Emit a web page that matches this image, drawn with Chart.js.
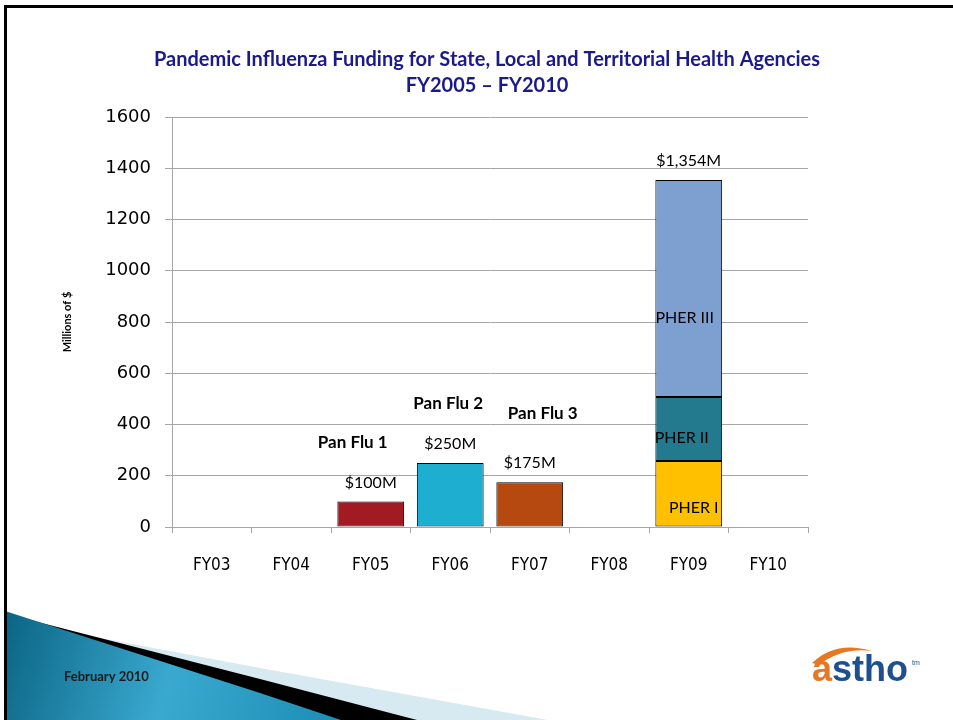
<!DOCTYPE html>
<html>
<head>
<meta charset="utf-8">
<script src="https://cdn.jsdelivr.net/npm/chart.js@4.4.1/dist/chart.umd.min.js"></script>
<style>
html,body{margin:0;padding:0;background:#fff;}
canvas{display:block;}
</style>
</head>
<body>
<canvas id="flu" width="953" height="720"></canvas>
<script>
// fiscal years along the bottom
const years = ['FY03','FY04','FY05','FY06','FY07','FY08','FY09','FY10'];
// pandemic flu grants (millions of $)
const panFlu = [null,null,100,250,175,null,null,null];
const panFluColors = ['#a31b22','#a31b22','#a31b22','#1eaed0','#b5490f','#a31b22','#a31b22','#a31b22'];
// PHER phases, FY09 only
const pher1 = [null,null,null,null,null,null,258,null];
const pher2 = [null,null,null,null,null,null,249,null];
const pher3 = [null,null,null,null,null,null,847,null];
const pherNames = ['PHER I','PHER II','PHER III'];
const amountLabels = ['','','$100M','$250M','$175M','','$1,354M',''];
const programLabels = ['','','Pan Flu 1','Pan Flu 2','Pan Flu 3','','',''];

function poly(ctx, pts){
  ctx.beginPath();
  ctx.moveTo(pts[0][0], pts[0][1]);
  for (let i = 1; i < pts.length; i++) ctx.lineTo(pts[i][0], pts[i][1]);
  ctx.closePath();
  ctx.fill();
}

const slide = {
  id: 'slide',
  beforeDraw(chart){
    const ctx = chart.ctx;
    ctx.save();
    ctx.fillStyle = '#fff';
    ctx.fillRect(0, 0, chart.width, chart.height);
    // bottom left swoosh
    ctx.fillStyle = '#d7e9f1';
    poly(ctx, [[90,636],[260,668],[548,720],[5,720]]);
    ctx.fillStyle = '#000';
    poly(ctx, [[30,620],[260,679],[417,720],[5,720]]);
    let g = ctx.createLinearGradient(5, 620, 340, 720);
    g.addColorStop(0, '#0b6585');
    g.addColorStop(0.5, '#3aa9d0');
    g.addColorStop(1, '#1c8db5');
    ctx.fillStyle = g;
    poly(ctx, [[5,611],[67,631],[260,693],[341,720],[5,720]]);
    ctx.restore();
  },
  afterDraw(chart, args, opts){
    const ctx = chart.ctx;
    const x = chart.scales.x, y = chart.scales.y;
    ctx.save();
    // frame
    ctx.fillStyle = '#000';
    ctx.fillRect(4, 5, 949, 3);
    ctx.fillRect(4, 5, 3, 715);

    // title
    ctx.fillStyle = '#1a1a8a';
    ctx.textAlign = 'center';
    ctx.textBaseline = 'middle';
    ctx.font = 'bold 20px Lato';
    ctx.fillText('Pandemic Influenza Funding for State, Local and Territorial Health Agencies', 487, 60);
    ctx.fillText('FY2005 \u2013 FY2010', 487, 86);

    // totals and program names above the bars
    ctx.fillStyle = '#000';
    years.forEach((yr, i) => {
      if (!amountLabels[i]) return;
      const total = [panFlu, pher1, pher2, pher3].reduce((s, d) => s + (d[i] || 0), 0);
      const cx = x.getPixelForValue(i);
      const ty = y.getPixelForValue(total) - 19;
      ctx.font = '16px Lato';
      ctx.fillText(amountLabels[i], cx, ty);
      if (programLabels[i]) {
        const n = opts.programNudge[i] || [0, 0];
        ctx.font = 'bold 17px Lato';
        ctx.fillText(programLabels[i], cx + n[0], ty - 40 + n[1]);
      }
    });

    // segment names inside FY09
    ctx.font = '16px Lato';
    pherNames.forEach((name, k) => {
      const bar = chart.getDatasetMeta(k + 1).data[6];
      const n = opts.pherNudge[k];
      ctx.fillText(name, bar.x + n[0], (bar.y + bar.base) / 2 + n[1]);
    });

    // footer
    ctx.textAlign = 'left';
    ctx.fillStyle = '#1a1a1a';
    ctx.font = 'bold 13px Lato';
    ctx.fillText('February 2010', 64, 677);

    // logo
    ctx.textBaseline = 'alphabetic';
    ctx.font = 'bold 36px "Liberation Sans"';
    ctx.fillStyle = '#e87722';
    ctx.fillText('a', 812, 681);
    const wa = ctx.measureText('a').width;
    ctx.fillStyle = '#1d4f91';
    ctx.fillText('stho', 812 + wa, 681);
    ctx.fillStyle = '#e87722';
    ctx.beginPath();
    ctx.moveTo(812, 663);
    ctx.quadraticCurveTo(836, 640, 872, 651);
    ctx.quadraticCurveTo(842, 647, 819, 665);
    ctx.closePath();
    ctx.fill();
    ctx.fillStyle = '#1d4f91';
    ctx.font = '7px "Liberation Sans"';
    ctx.fillText('tm', 912, 665);
    ctx.restore();
  }
};

const seg = (label, data, color) => ({
  label: label, data: data, backgroundColor: color,
  borderColor: '#000', borderWidth: 1, borderSkipped: false
});

new Chart(document.getElementById('flu'), {
  type: 'bar',
  data: {
    labels: years,
    datasets: [
      seg('Pan Flu', panFlu, panFluColors),
      seg('PHER I', pher1, '#ffc000'),
      seg('PHER II', pher2, '#23798d'),
      seg('PHER III', pher3, '#7da0d0')
    ]
  },
  options: {
    responsive: false,
    animation: false,
    categoryPercentage: 1,
    barPercentage: 0.84,
    layout: { padding: { left: 61, top: 117, right: 145, bottom: 143 } },
    plugins: {
      legend: { display: false },
      tooltip: { enabled: false },
      slide: {
        programNudge: { 2: [-18, 0], 3: [-2, 0], 4: [13, -10] },
        pherNudge: [[5, 14], [-7, 9], [-4, 29]]
      }
    },
    scales: {
      x: {
        stacked: true,
        grid: { offset: true, drawOnChartArea: false, tickLength: 6, color: '#a6a6a6' },
        border: { color: '#a6a6a6' },
        ticks: { color: '#000', padding: 22, font: { family: 'DejaVu Sans Condensed', size: 17 } },
        afterFit(s) { s.height = 50; }
      },
      y: {
        stacked: true,
        min: 0,
        max: 1600,
        grid: { color: '#a6a6a6', tickLength: 7 },
        border: { color: '#a6a6a6' },
        ticks: { stepSize: 200, color: '#000', padding: 14, callback: v => String(v),
                 font: { family: 'DejaVu Sans', size: 18 } },
        title: { display: true, text: 'Millions of $', color: '#000', padding: 0,
                 font: { family: 'Lato', weight: 'bold', size: 11 } },
        afterFit(s) { s.width = 111; }
      }
    }
  },
  plugins: [slide]
});
</script>
</body>
</html>
